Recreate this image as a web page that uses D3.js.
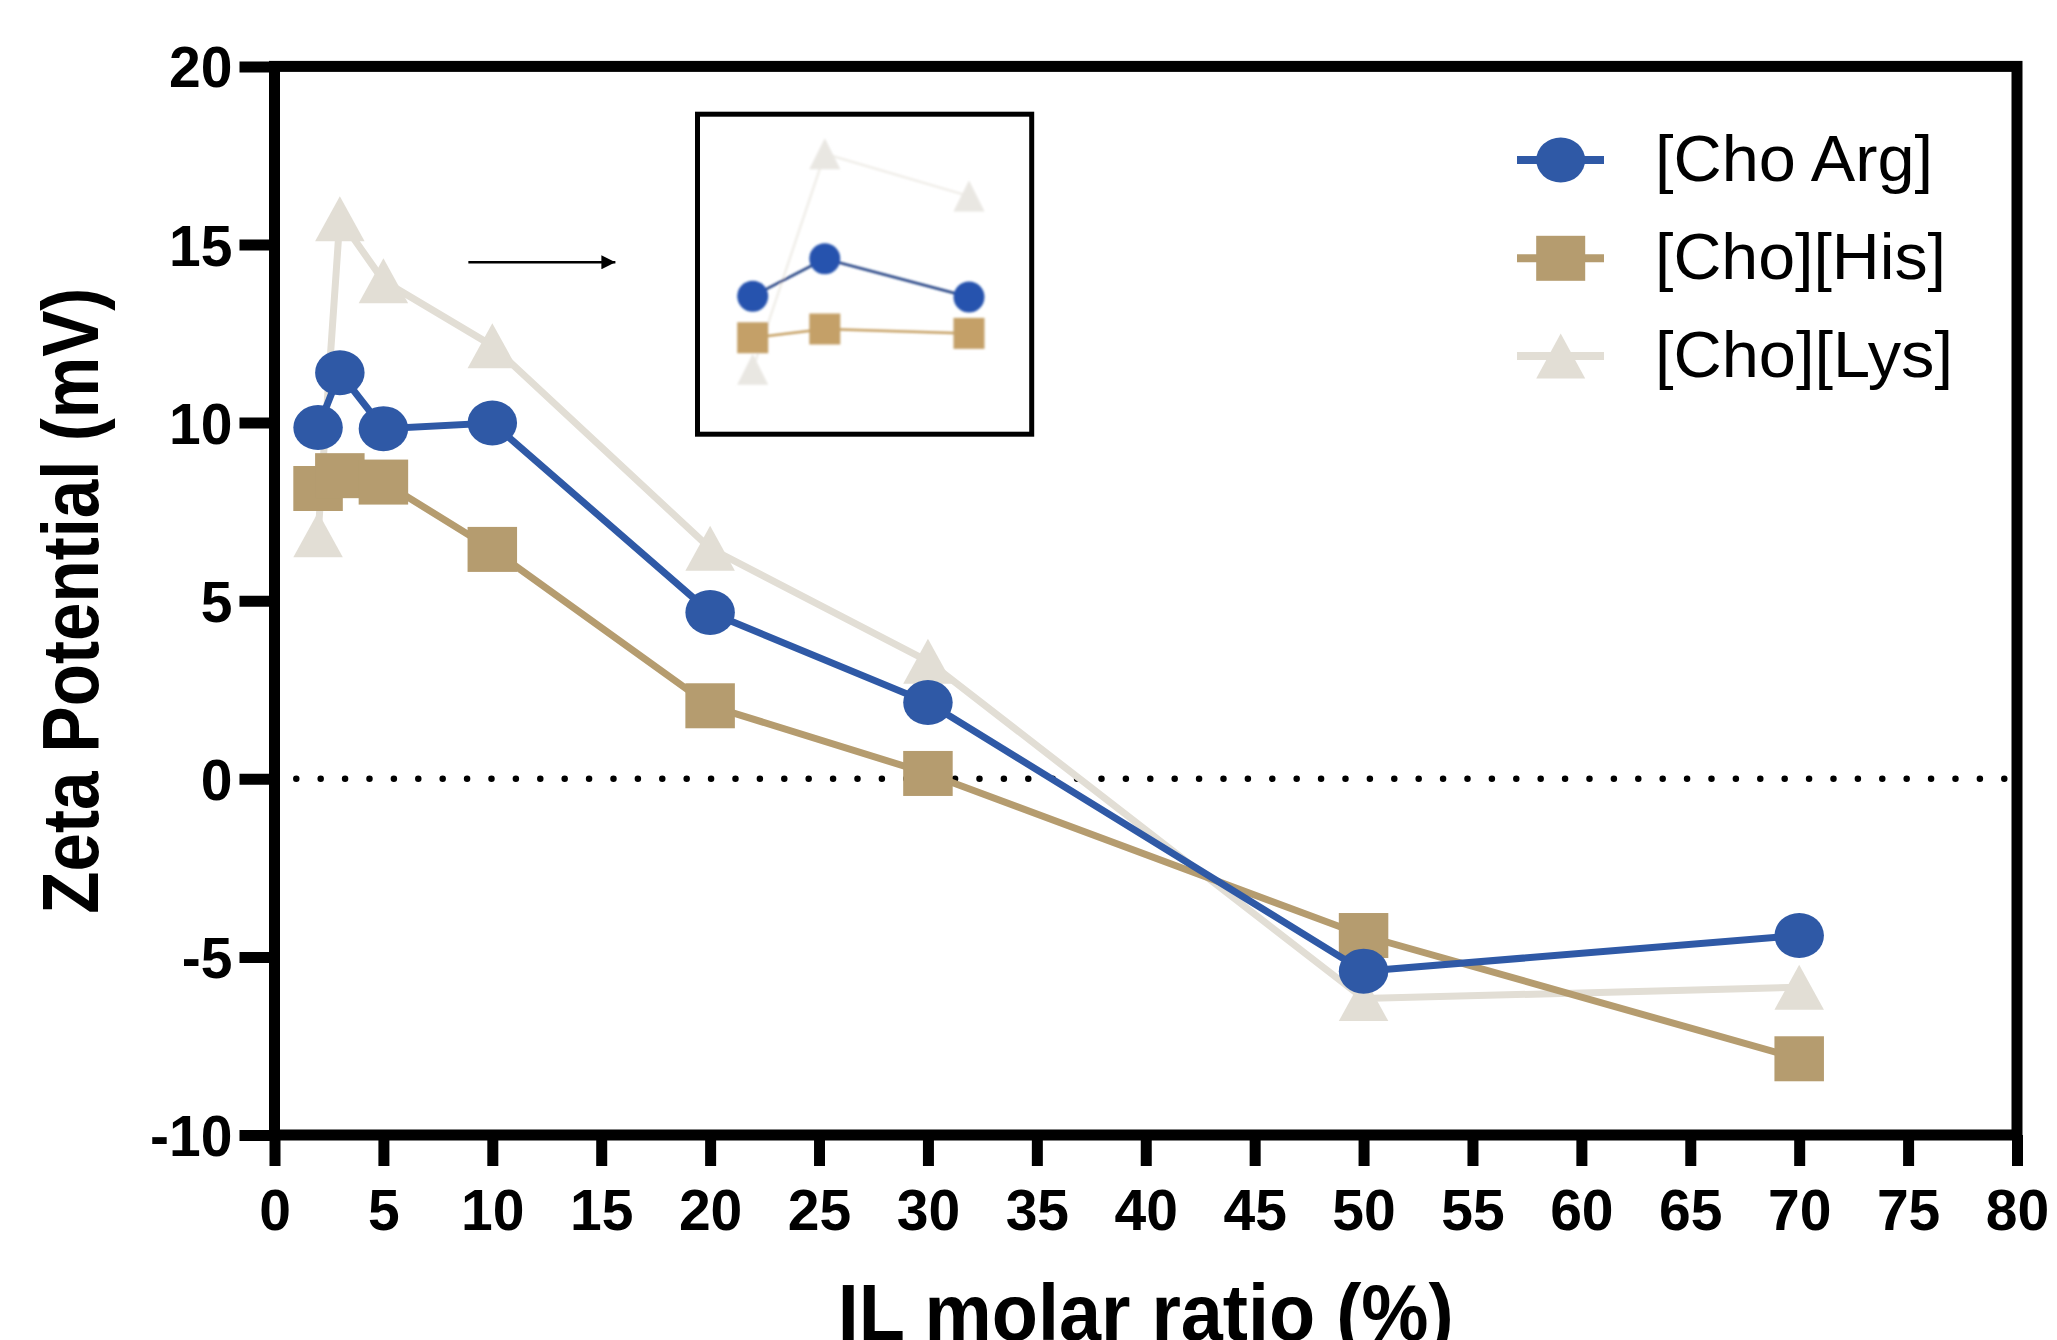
<!DOCTYPE html>
<meta charset="utf-8">
<script src="https://d3js.org/d3.v7.min.js"></script>
<style>
  body { margin: 0; background: #fff; }
  text { font-family: "Liberation Sans", Arial, sans-serif; }
  .tick text { font-size: 57px; font-weight: bold; fill: #000; }
</style>
<svg></svg>
<script>

// DATA

var xValues = [2, 3, 5, 10, 20, 30, 50, 70];
var argValues = [9.86, 11.40, 9.83, 9.99, 4.67, 2.14, -5.40, -4.40];
var hisValues = [8.15, 8.51, 8.33, 6.44, 2.05, 0.15, -4.40, -7.86];
var lysValues = [6.85, 15.72, 13.98, 12.16, 6.47, 3.30, -6.17, -5.85];
var seriesNames = ["[Cho Arg]", "[Cho][His]", "[Cho][Lys]"];
var xTicks = d3.range(0, 81, 5);
var yTicks = [-10, -5, 0, 5, 10, 15, 20];

// GLOBALS

var width = 2057;
var height = 1340;
var colors = ["#2f59a6", "#b59c6f", "#e2ded5"];
var shapes = ["circle", "square", "triangle"];

var svg = d3.select("svg")
    .attr("width", width)
    .attr("height", height);

var x = d3.scaleLinear().domain([0, 80]).range([274.5, 2017]);
var y = d3.scaleLinear().domain([-10, 20]).range([1135, 66.4]);

var series = [argValues, hisValues, lysValues].map(function(vals, i) {
  return {
    name: seriesNames[i],
    color: colors[i],
    shape: shapes[i],
    points: xValues.map(function(v, j) { return {x: v, y: vals[j]}; })
  };
});

// marker drawing, w/h are full width and height of the mark
function marker(g, shape, cx, cy, w, h, fill) {
  if (shape === "circle") {
    g.append("ellipse").attr("cx", cx).attr("cy", cy)
      .attr("rx", w / 2).attr("ry", h / 2).attr("fill", fill);
  } else if (shape === "square") {
    g.append("rect").attr("x", cx - w / 2).attr("y", cy - h / 2)
      .attr("width", w).attr("height", h).attr("fill", fill);
  } else {
    g.append("path")
      .attr("d", "M" + cx + "," + (cy - h / 2) + "L" + (cx + w / 2) + "," + (cy + h / 2) +
                 "L" + (cx - w / 2) + "," + (cy + h / 2) + "Z")
      .attr("fill", fill);
  }
}

// ZERO LINE

svg.append("line")
    .attr("x1", x(1)).attr("x2", x(79.6))
    .attr("y1", y(0)).attr("y2", y(0))
    .attr("stroke", "#000")
    .attr("stroke-width", 6.5)
    .attr("stroke-linecap", "round")
    .attr("stroke-dasharray", "0,24.4");

// SERIES (Lys at the bottom, Arg on top)

var line = d3.line().x(function(d) { return x(d.x); }).y(function(d) { return y(d.y); });

series.slice().reverse().forEach(function(s) {
  var g = svg.append("g");
  g.append("path")
    .datum(s.points)
    .attr("d", line)
    .attr("fill", "none")
    .attr("stroke", s.color)
    .attr("stroke-width", 7);
  s.points.forEach(function(p) {
    marker(g, s.shape, x(p.x), y(p.y), 49.5, 45, s.color);
  });
});

// FRAME AND AXES

svg.append("rect")
    .attr("x", x(0)).attr("y", y(20))
    .attr("width", x(80) - x(0)).attr("height", y(-10) - y(20))
    .attr("fill", "none")
    .attr("stroke", "#000")
    .attr("stroke-width", 11);

var yAxis = svg.append("g")
    .attr("transform", "translate(" + x(0) + ",0)")
    .call(d3.axisLeft(y).tickValues(yTicks).tickFormat(String)
      .tickSize(35).tickPadding(7).tickSizeOuter(0));

var xAxis = svg.append("g")
    .attr("transform", "translate(0," + y(-10) + ")")
    .call(d3.axisBottom(x).tickValues(xTicks).tickFormat(String)
      .tickSize(31).tickPadding(24).tickSizeOuter(0));

[xAxis, yAxis].forEach(function(a) {
  a.select(".domain").remove();
  a.selectAll(".tick line").attr("stroke", "#000").attr("stroke-width", 11);
});
yAxis.selectAll(".tick text").attr("dy", "0.36em");

// AXIS TITLES

svg.append("text")
    .attr("transform", "translate(98," + ((y(20) + y(-10)) / 2) + ") rotate(-90)")
    .attr("text-anchor", "middle")
    .attr("textLength", 626)
    .attr("lengthAdjust", "spacingAndGlyphs")
    .style("font-size", "79px")
    .style("font-weight", "bold")
    .text("Zeta Potential (mV)");

// bottom of this title is cut by the picture edge, as in the original figure
svg.append("text")
    .attr("x", (x(0) + x(80)) / 2)
    .attr("y", 1340)
    .attr("text-anchor", "middle")
    .attr("textLength", 616)
    .attr("lengthAdjust", "spacingAndGlyphs")
    .style("font-size", "79px")
    .style("font-weight", "bold")
    .text("IL molar ratio (%)");

// ARROW

var defs = svg.append("defs");
defs.append("marker")
    .attr("id", "arrowhead")
    .attr("viewBox", "0 0 10 10")
    .attr("refX", 10).attr("refY", 5)
    .attr("markerUnits", "userSpaceOnUse")
    .attr("markerWidth", 15).attr("markerHeight", 14)
    .attr("orient", "auto")
    .append("path")
    .attr("d", "M0,0L10,5L0,10Z")
    .attr("fill", "#000");

svg.append("line")
    .attr("x1", x(8.9)).attr("x2", x(15.65))
    .attr("y1", y(14.5)).attr("y2", y(14.5))
    .attr("stroke", "#000")
    .attr("stroke-width", 2.6)
    .attr("marker-end", "url(#arrowhead)");

// INSET (zoom of the first three concentrations)

var inset = {left: 697.5, top: 114.2, right: 1031.7, bottom: 434.2};
var xi = d3.scaleLinear().domain([2, 5]).range([752.7, 969]);
var yi = d3.scaleLinear().domain([6, 16]).range([390, 147]);

defs.append("clipPath").attr("id", "insetClip")
  .append("rect")
    .attr("x", inset.left + 2.5).attr("y", inset.top + 2.5)
    .attr("width", inset.right - inset.left - 5).attr("height", inset.bottom - inset.top - 5);
defs.append("filter").attr("id", "soft")
  .append("feGaussianBlur").attr("stdDeviation", 0.8);

var insetLines = ["#1f3c80", "#c6a064", "#ebe8e2"];
var insetFills = ["#2552ae", "#c4a068", "#e2dfd8"];
var insetOpacity = [1, 1, 0.75];
var lineI = d3.line().x(function(d) { return xi(d.x); }).y(function(d) { return yi(d.y); });

var gi = svg.append("g").attr("clip-path", "url(#insetClip)")
  .append("g").attr("filter", "url(#soft)");

[2, 1, 0].forEach(function(k) {
  var s = series[k];
  var pts = s.points.filter(function(p) { return p.x <= 5; });
  var g = gi.append("g").attr("opacity", insetOpacity[k]);
  g.append("path")
    .datum(pts)
    .attr("d", lineI)
    .attr("fill", "none")
    .attr("stroke", insetLines[k])
    .attr("stroke-width", 2.5);
  pts.forEach(function(p) {
    marker(g, s.shape, xi(p.x), yi(p.y), 31, 31, insetFills[k]);
  });
});

svg.append("rect")
    .attr("x", inset.left).attr("y", inset.top)
    .attr("width", inset.right - inset.left).attr("height", inset.bottom - inset.top)
    .attr("fill", "none")
    .attr("stroke", "#000")
    .attr("stroke-width", 5);

// LEGEND

var legendRows = [160, 258.3, 356];
var legendWidths = [278, 291, 298];

series.forEach(function(s, i) {
  var g = svg.append("g").attr("transform", "translate(0," + legendRows[i] + ")");
  g.append("line")
    .attr("x1", 1517).attr("x2", 1604)
    .attr("y1", 0).attr("y2", 0)
    .attr("stroke", s.color)
    .attr("stroke-width", 8);
  marker(g, s.shape, 1560.7, 0, 49, 45, s.color);
  g.append("text")
    .attr("x", 1655)
    .attr("y", 21)
    .attr("textLength", legendWidths[i])
    .attr("lengthAdjust", "spacingAndGlyphs")
    .style("font-size", "64px")
    .text(s.name);
});

</script>
